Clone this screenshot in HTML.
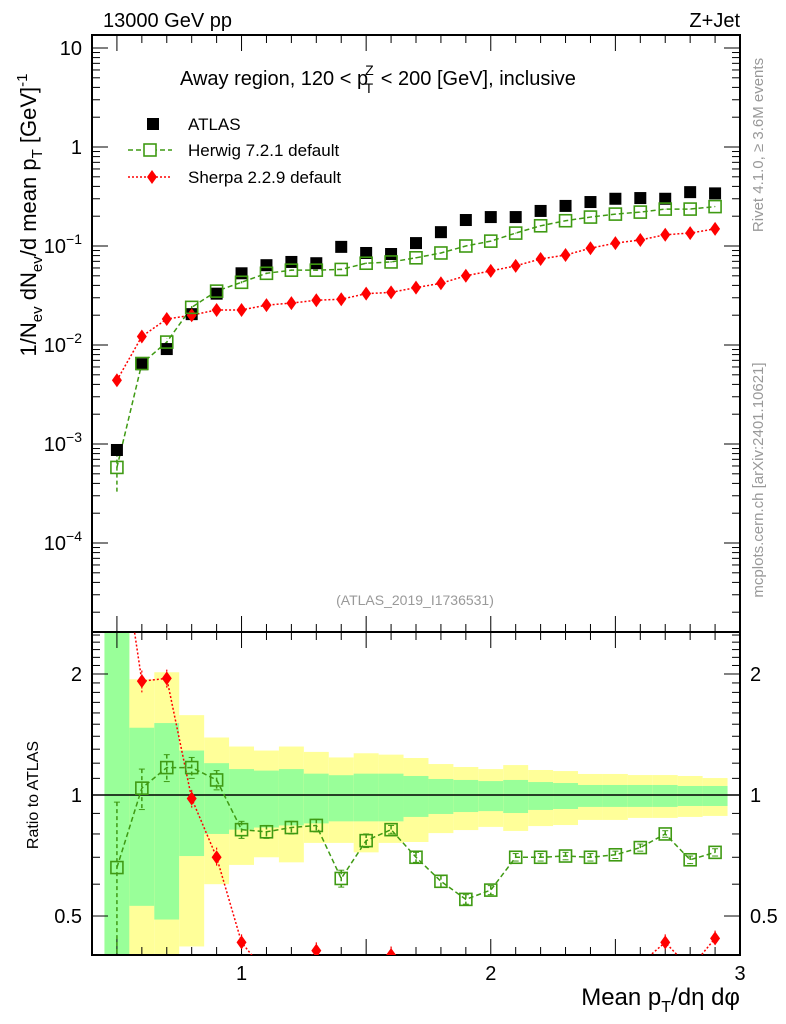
<!DOCTYPE html>
<html><head><meta charset="utf-8">
<style>
html,body{margin:0;padding:0;background:#fff;}
svg{display:block;font-family:"Liberation Sans",Arial,sans-serif;}
</style></head>
<body>
<svg id="chart" width="786" height="1024" viewBox="0 0 786 1024" xmlns="http://www.w3.org/2000/svg">
  <g id="bands"></g>
  <g id="axes"></g>
  <g id="series"></g>
  <text x="103" y="27" font-size="20">13000 GeV pp</text>
  <text x="740" y="27" font-size="20" text-anchor="end">Z+Jet</text>
  <text x="180" y="85" font-size="20">Away region, 120 &lt; p<tspan font-size="14" dy="-10" dx="-3">Z</tspan><tspan font-size="14" dy="18" dx="-9">T</tspan><tspan dy="-8" dx="2"> &lt; 200 [GeV], inclusive</tspan></text>
  <text x="415" y="605" font-size="14" fill="#999" text-anchor="middle">(ATLAS_2019_I1736531)</text>
  <text transform="translate(763,145) rotate(-90)" font-size="15" fill="#999" text-anchor="middle">Rivet 4.1.0, ≥ 3.6M events</text>
  <text transform="translate(763,480) rotate(-90)" font-size="15" fill="#999" text-anchor="middle">mcplots.cern.ch [arXiv:2401.10621]</text>
  <text transform="translate(36,215) rotate(-90)" font-size="22" text-anchor="middle">1/N<tspan font-size="15" dy="6">ev</tspan><tspan dy="-6"> dN</tspan><tspan font-size="15" dy="6">ev</tspan><tspan dy="-6">/d mean p</tspan><tspan font-size="15" dy="6">T</tspan><tspan dy="-6"> [GeV]</tspan><tspan font-size="15" dy="-9">-1</tspan></text>
  <text transform="translate(38,795) rotate(-90)" font-size="16" text-anchor="middle">Ratio to ATLAS</text>
  <text x="740" y="1005" font-size="24" text-anchor="end">Mean p<tspan font-size="16" dy="7">T</tspan><tspan dy="-7">/dη dφ</tspan></text>
  <g>
    <rect x="147" y="118" width="12" height="12" fill="#000"/>
    <text x="188" y="130" font-size="17">ATLAS</text>
    <line x1="128" y1="150" x2="172" y2="150" stroke="#3f9a13" stroke-width="1.5" stroke-dasharray="5,3"/>
    <rect x="144" y="144" width="12" height="12" fill="#fff" stroke="#3f9a13" stroke-width="1.6"/>
    <text x="188" y="156" font-size="17">Herwig 7.2.1 default</text>
    <line x1="128" y1="177" x2="172" y2="177" stroke="#f00" stroke-width="1.5" stroke-dasharray="2,2"/>
    <polygon points="152,170 157,177 152,184 147,177" fill="#f00"/>
    <text x="188" y="183" font-size="17">Sherpa 2.2.9 default</text>
  </g>
</svg>
<script>
const xCenters = [0.5,0.6,0.7,0.8,0.9,1.0,1.1,1.2,1.3,1.4,1.5,1.6,1.7,1.8,1.9,2.0,2.1,2.2,2.3,2.4,2.5,2.6,2.7,2.8,2.9];
const atlasVals = [8.7e-4,6.4e-3,9.1e-3,0.0205,0.033,0.053,0.064,0.069,0.067,0.098,0.085,0.083,0.107,0.138,0.183,0.196,0.196,0.226,0.254,0.278,0.30,0.305,0.30,0.35,0.34];
const herwigVals = [5.8e-4,6.5e-3,0.0107,0.024,0.035,0.043,0.053,0.057,0.057,0.058,0.067,0.069,0.076,0.085,0.10,0.112,0.135,0.16,0.18,0.196,0.21,0.22,0.236,0.236,0.25];
const herwigErrLo = [3.3e-4,5.8e-3,0.0098,0.0225,0.0335,0.042,0.052,0.056,0.056,0.057,0.066,0.068,0.075,0.084,0.099,0.111,0.134,0.159,0.179,0.195,0.209,0.219,0.235,0.235,0.249];
const herwigErrHi = [8.5e-4,7.2e-3,0.0116,0.0255,0.0365,0.044,0.054,0.058,0.058,0.059,0.068,0.070,0.077,0.086,0.101,0.113,0.136,0.161,0.181,0.197,0.211,0.221,0.237,0.237,0.251];
const sherpaVals = [4.4e-3,0.0122,0.0183,0.020,0.0226,0.0226,0.0253,0.0265,0.0283,0.029,0.033,0.034,0.038,0.042,0.05,0.056,0.063,0.074,0.081,0.095,0.107,0.115,0.13,0.135,0.149];
const herwigRatio = [0.66,1.04,1.17,1.17,1.09,0.82,0.81,0.83,0.84,0.62,0.77,0.82,0.70,0.61,0.55,0.58,0.70,0.70,0.705,0.70,0.71,0.74,0.80,0.69,0.72];
const herwigRatioErr = [0.30,0.12,0.09,0.07,0.06,0.04,0.03,0.03,0.03,0.03,0.03,0.02,0.02,0.02,0.015,0.015,0.015,0.015,0.015,0.015,0.015,0.015,0.015,0.015,0.015];
const sherpaRatio = [5.0,1.92,1.95,0.98,0.70,0.43,0.36,0.35,0.41,0.30,0.33,0.40,0.34,0.30,0.27,0.28,0.32,0.33,0.32,0.34,0.36,0.38,0.43,0.37,0.44];
const sherpaRatioErr = [0.3,0.12,0.1,0.05,0.04,0.02,0.02,0.02,0.02,0.02,0.02,0.02,0.02,0.02,0.02,0.02,0.02,0.02,0.02,0.02,0.02,0.02,0.02,0.02,0.02];
const totHi = [3.0,1.94,2.02,1.58,1.39,1.32,1.29,1.32,1.28,1.24,1.27,1.26,1.236,1.194,1.174,1.16,1.187,1.154,1.147,1.128,1.128,1.121,1.121,1.115,1.102];
const statHi = [3.0,1.47,1.51,1.29,1.20,1.16,1.15,1.16,1.13,1.12,1.13,1.13,1.115,1.096,1.09,1.083,1.09,1.077,1.071,1.059,1.059,1.059,1.059,1.053,1.053];
const statLo = [0.3,0.53,0.49,0.705,0.80,0.82,0.83,0.84,0.85,0.86,0.86,0.86,0.882,0.897,0.907,0.912,0.902,0.918,0.923,0.934,0.934,0.934,0.934,0.939,0.939];
const totLo = [0.3,0.40,0.30,0.42,0.60,0.67,0.70,0.68,0.76,0.76,0.72,0.76,0.764,0.804,0.818,0.833,0.814,0.837,0.842,0.867,0.867,0.877,0.877,0.882,0.887];
const xTickLabels = ["1","2","3"];
const mainTickExps = [-4,-3,-2,-1,0,1];
const ratioTickLabels = ["0.5","1","2"];

const NS="http://www.w3.org/2000/svg";
const L=92,R=740,T=35,MB=632,RB=955;
const X=v=>L+(v-0.4)*(R-L)/2.6;
const YM=v=>147-99*Math.log10(v);
const YR=v=>795-402*Math.log10(v);
function mk(tag,attrs,parent){const e=document.createElementNS(NS,tag);for(const k in attrs)e.setAttribute(k,attrs[k]);parent.appendChild(e);return e;}
const bands=document.getElementById('bands'),axes=document.getElementById('axes'),series=document.getElementById('series');
const clampR=y=>Math.max(MB,Math.min(RB,y));

xCenters.forEach((c,i)=>{
  const x0=X(c-0.05),x1=X(c+0.05);
  const yb=mk('rect',{x:x0,y:clampR(YR(totHi[i])),width:x1-x0,height:clampR(YR(totLo[i]))-clampR(YR(totHi[i])),fill:'#ffff99'},bands);
  
  
  const gb=mk('rect',{x:x0,y:clampR(YR(statHi[i])),width:x1-x0,height:clampR(YR(statLo[i]))-clampR(YR(statHi[i])),fill:'#99ff99'},bands);
  
  
});

mk('rect',{x:L,y:T,width:R-L,height:MB-T,fill:'none',stroke:'#000','stroke-width':2},axes);
mk('rect',{x:L,y:MB,width:R-L,height:RB-MB,fill:'none',stroke:'#000','stroke-width':2},axes);
mk('line',{x1:L,x2:R,y1:YR(1),y2:YR(1),stroke:'#000','stroke-width':1.5},axes);

for(let k=4;k<=30;k++){
  const v=k/10,x=X(v),maj=(k%5===0),len=maj?16:8;
  [[T,1],[MB,-1],[MB,1],[RB,-1]].forEach(([y,d])=>mk('line',{x1:x,x2:x,y1:y,y2:y+d*len,stroke:'#000','stroke-width':1},axes));
}
xTickLabels.forEach(s=>{const t=mk('text',{x:X(+s),y:980,'font-size':20,'text-anchor':'middle'},axes);t.textContent=s;

});

for(let e=-5;e<=1;e++){
  for(let m=1;m<10;m++){
    const v=m*Math.pow(10,e),y=YM(v);if(y<T||y>MB)continue;
    const len=m===1?16:8;
    mk('line',{x1:L,x2:L+len,y1:y,y2:y,stroke:'#000'},axes);
    mk('line',{x1:R,x2:R-len,y1:y,y2:y,stroke:'#000'},axes);
  }
}
mainTickExps.forEach(e=>{
  const y=YM(Math.pow(10,e));
  const t=mk('text',{x:82,y:y+7,'font-size':20,'text-anchor':'end'},axes);
  
  
  if(e===0)t.textContent='1';else if(e===1)t.textContent='10';
  else{t.textContent='10';const s=mk('tspan',{'font-size':14,dy:-9},t);s.textContent=String(e).replace('-','−');}
});

for(let k=4;k<=25;k++){
  const v=k/10;const y=YR(v);
  const maj=(v===0.5||v===1||v===2),len=maj?16:8;
  mk('line',{x1:L,x2:L+len,y1:y,y2:y,stroke:'#000'},axes);
  mk('line',{x1:R,x2:R-len,y1:y,y2:y,stroke:'#000'},axes);
}
ratioTickLabels.forEach(s=>{
  const y=YR(+s)+7;
  const t1=mk('text',{x:82,y:y,'font-size':20,'text-anchor':'end'},axes);t1.textContent=s;
  
  
  const t2=mk('text',{x:750,y:y,'font-size':20},axes);t2.textContent=s;
  
  
});

const defs=mk('defs',{},series);
const c1=mk('clipPath',{id:'cm'},defs);mk('rect',{x:L,y:T,width:R-L,height:MB-T},c1);
const c2=mk('clipPath',{id:'cr'},defs);mk('rect',{x:L,y:MB,width:R-L,height:RB-MB},c2);
const gm=mk('g',{'clip-path':'url(#cm)'},series),gr=mk('g',{'clip-path':'url(#cr)'},series);
const GREEN='#3f9a13',RED='#f00';
function poly(pts,color,dash,g,name){const p=mk('polyline',{points:pts.map(q=>q.join(',')).join(' '),fill:'none',stroke:color,'stroke-width':1.5,'stroke-dasharray':dash},g);

}

poly(xCenters.map((c,i)=>[X(c),YM(herwigVals[i])]),GREEN,'5,3',gm,'herwig-line');
poly(xCenters.map((c,i)=>[X(c),YM(sherpaVals[i])]),RED,'2,2',gm,'sherpa-line');
xCenters.forEach((c,i)=>{
  const x=X(c);
  mk('line',{x1:x,x2:x,y1:YM(herwigErrLo[i]),y2:YM(herwigErrHi[i]),stroke:GREEN,'stroke-width':1.5,'stroke-dasharray':'4,3'},gm);
  const a=mk('rect',{x:x-6,y:YM(atlasVals[i])-6,width:12,height:12,fill:'#000'},gm);
  
  
  const y=YM(sherpaVals[i]);
  const s=mk('polygon',{points:`${x},${y-7} ${x+5},${y} ${x},${y+7} ${x-5},${y}`,fill:RED},gm);
  
  
  const h=mk('rect',{x:x-6,y:YM(herwigVals[i])-6,width:12,height:12,fill:'none',stroke:GREEN,'stroke-width':1.6},gm);
  
  
});

poly(xCenters.map((c,i)=>[X(c),YR(herwigRatio[i])]),GREEN,'5,3',gr,'herwig-ratio-line');
poly(xCenters.map((c,i)=>[X(c),YR(sherpaRatio[i])]),RED,'2,2',gr,'sherpa-ratio-line');
xCenters.forEach((c,i)=>{
  const x=X(c);
  const hy1=YR(herwigRatio[i]+herwigRatioErr[i]),hy2=YR(Math.max(0.05,herwigRatio[i]-herwigRatioErr[i]));
  mk('line',{x1:x,x2:x,y1:hy1,y2:hy2,stroke:GREEN,'stroke-width':1.5,'stroke-dasharray':'4,3'},gr);
  mk('line',{x1:x-3,x2:x+3,y1:hy1,y2:hy1,stroke:GREEN},gr);
  mk('line',{x1:x-3,x2:x+3,y1:hy2,y2:hy2,stroke:GREEN},gr);
  const sy1=YR(sherpaRatio[i]+sherpaRatioErr[i]),sy2=YR(sherpaRatio[i]-sherpaRatioErr[i]);
  mk('line',{x1:x,x2:x,y1:sy1,y2:sy2,stroke:RED,'stroke-width':1.2,'stroke-dasharray':'2,2'},gr);
  const y=YR(sherpaRatio[i]);
  const s=mk('polygon',{points:`${x},${y-7} ${x+5},${y} ${x},${y+7} ${x-5},${y}`,fill:RED},gr);
  
  
  const h=mk('rect',{x:x-6,y:YR(herwigRatio[i])-6,width:12,height:12,fill:'none',stroke:GREEN,'stroke-width':1.6},gr);
  
  
});
</script>
</body></html>
